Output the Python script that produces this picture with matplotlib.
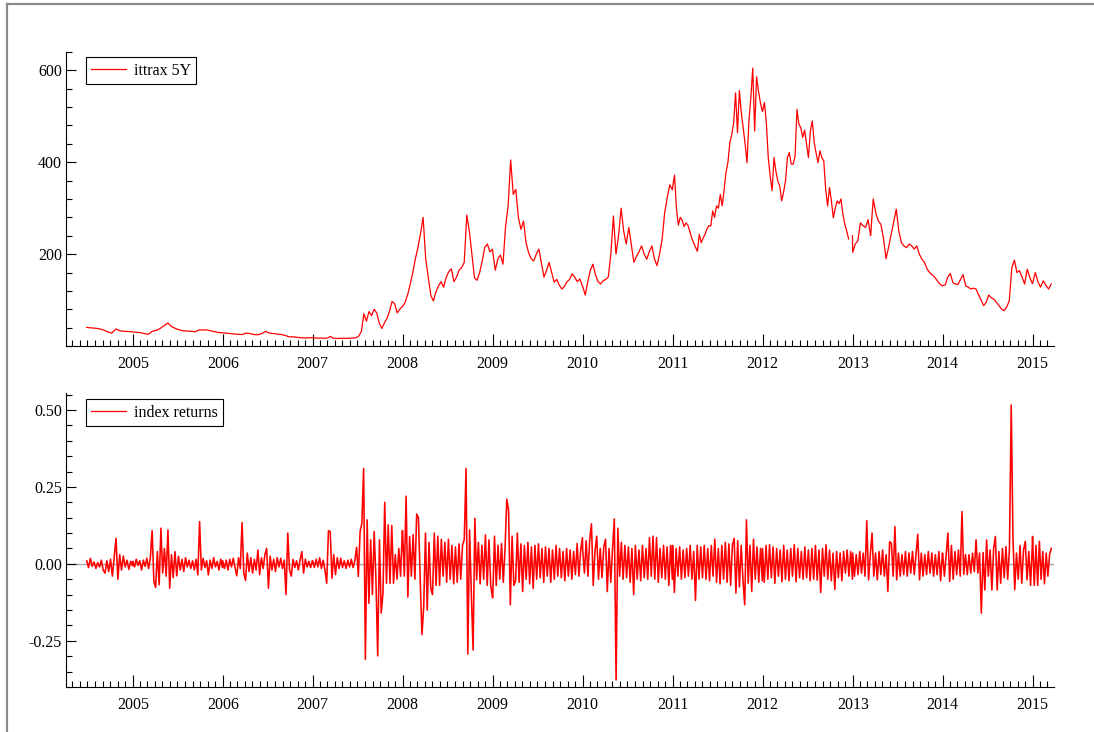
import numpy as np
import pandas as pd
import matplotlib
matplotlib.use('Agg')
import matplotlib.pyplot as plt
import matplotlib.dates as mdates
from matplotlib.lines import Line2D

plt.rcParams['font.family'] = ['Liberation Serif', 'DejaVu Serif']

nan = np.nan

# itraxx 5Y spread level, one list per calendar year
lvl_2004 = [40.5, 39.5, 38.8, 37.5, 35.0, 31.0, 28.0, 37.0, 33.0, 32.0, 31.5, 31.0]
lvl_2005 = [30.5, 30.0, 29.0, 27.0, 25.5, 32.0, 34.0, 38.0, 44.0, 50.0, 42.0, 38.0,
            35.0, 33.0, 32.5, 32.0, 31.0, 35.0, 35.0, 35.0, 33.0, 31.0, 29.5, 28.5]
lvl_2006 = [28.5, 28.0, 27.0, 26.0, 25.5, 25.0, 28.0, 27.0, 25.0, 24.5, 27.0, 32.0,
            28.0, 27.0, 26.0, 25.0, 23.0, 20.0, 20.0, 19.0, 18.0, 17.5, 18.0, 18.0]
lvl_2007 = [18, 17.5, 17, 17.5, 17, 16.5, 18, 21, 17, 16.5, 16.5, 16.7,
            17, 16.5, 17, 17, 17.5, 18, 22, 31, 70, 54, 75, 66,
            80, 72, 50, 38, 50, 60, 76, 97, 92, 72, 80, 86]
lvl_2008 = [86, 95, 112, 135, 160, 190, 215, 245, 280, 190, 150, 110,
            98, 118, 131, 140, 128, 150, 162, 168, 140, 150, 165, 171,
            182, 285, 250, 200, 148, 143, 160, 185, 215, 222, 205, 211]
lvl_2009 = [205, 165, 190, 198, 178, 260, 305, 405, 330, 341, 280, 254,
            272, 225, 203, 190, 185, 200, 211, 180, 150, 165, 182, 160,
            139, 145, 132, 124, 130, 140, 145, 157, 150, 140, 146, 130]
lvl_2010 = [130, 111, 140, 165, 178, 155, 140, 135, 142, 145, 150, 200,
            283, 200, 240, 300, 250, 222, 258, 220, 182, 195, 205, 218,
            200, 189, 205, 218, 190, 175, 200, 232, 290, 323, 351, 340]
lvl_2011 = [345, 372, 300, 263, 280, 274, 260, 268, 263, 250, 235, 225,
            215, 206, 243, 225, 235, 243, 255, 262, 261, 294, 280, 305,
            300, 330, 305, 340, 378, 400, 443, 460, 486, 551, 464, 556,
            508, 475, 440, 399, 490, 540, 605, 468, 586, 555, 530, 511]
lvl_2012 = [511, 530, 486, 410, 370, 338, 410, 380, 359, 348, 316, 335,
            359, 410, 421, 396, 396, 413, 515, 483, 475, 454, 470, 440,
            410, 468, 490, 443, 420, 399, 425, 410, 403, 341, 305, 345,
            316, 279, 300, 316, 310, 320, 287, 265, 250, 233, nan, 240]
lvl_2013 = [204, 222, 229, 268, 262, 258, 275, 240, 320, 290, 272, 265,
            235, 190, 215, 243, 270, 298, 250, 225, 218, 214, 222, 218,
            211, 218, 200, 189, 182, 168, 160, 155, 150, 142, 135, 131]
lvl_2014 = [131, 133, 150, 158, 138, 135, 134, 145, 155, 131, 128, 124,
            126, 124, 112, 100, 88, 95, 111, 105, 102, 95, 88, 80,
            77, 85, 98, 170, 187, 160, 164, 150, 135, 167, 150, 136]
lvl_2015 = [136, 160, 140, 128, 142, 132, 124, 135]

# index returns, one list per calendar year
ret_2004 = [0.010, -0.012, 0.018, -0.008, 0.006, -0.015, 0.004, -0.010, 0.012, -0.020,
            -0.030, 0.010, -0.025, 0.015, -0.040, 0.020, 0.083, -0.050, 0.030, -0.020,
            0.025, -0.010, 0.012, -0.018, 0.008, -0.006]
ret_2005 = [0.008, -0.010, 0.015, -0.005, 0.010, -0.020, 0.012, -0.008, 0.018, -0.015,
            0.020, 0.108, -0.057, -0.077, 0.040, -0.068, 0.116, -0.030, 0.050, -0.040,
            0.110, -0.079, 0.030, -0.045, 0.040, -0.039, 0.025, -0.020, 0.015, -0.025,
            0.020, -0.010, 0.012, -0.015, 0.010, -0.020, 0.015, -0.036, 0.137, -0.020,
            0.018, -0.012, 0.010, -0.036, 0.012, -0.015, 0.020, -0.010, 0.008, -0.020,
            0.015, -0.012]
ret_2006 = [0.010, -0.015, 0.012, -0.020, 0.015, -0.010, 0.018, -0.012, -0.039, 0.020,
            -0.015, 0.134, -0.030, -0.054, 0.035, -0.025, 0.020, -0.030, 0.015, -0.020,
            0.045, -0.035, 0.020, -0.015, 0.030, 0.050, -0.079, 0.025, -0.020, 0.015,
            -0.025, 0.020, -0.010, 0.018, -0.015, 0.012, -0.100, 0.100, -0.020, -0.040,
            0.015, -0.012, 0.010, -0.020, 0.012, 0.040, -0.030, 0.015, -0.010, 0.008,
            -0.012, 0.010]
ret_2007 = [0.010, -0.012, 0.015, -0.010, 0.020, -0.015, 0.012, -0.020, -0.063, 0.108,
            0.105, -0.047, 0.030, -0.035, 0.020, -0.015, 0.018, -0.012, 0.010, -0.015,
            0.012, -0.010, 0.015, -0.012, 0.010, 0.054, -0.041, 0.105, 0.132, 0.310,
            -0.310, 0.143, -0.128, 0.078, -0.100, 0.105, -0.050, -0.299, 0.078, -0.160,
            -0.095, 0.200, -0.063, 0.127, -0.063, 0.125, -0.063, 0.030, -0.050, 0.050,
            -0.040, 0.108]
ret_2008 = [0.108, -0.040, 0.220, -0.108, 0.089, -0.040, 0.095, -0.050, 0.162, 0.150,
            -0.050, -0.230, -0.139, 0.100, -0.150, 0.070, -0.080, -0.100, 0.100, -0.070,
            0.090, -0.070, 0.080, -0.040, 0.070, -0.060, 0.080, -0.050, 0.060, -0.065,
            0.055, -0.060, 0.065, -0.050, 0.060, 0.080, 0.310, -0.293, 0.110, -0.095,
            -0.280, 0.148, -0.052, 0.070, -0.065, 0.060, -0.050, 0.094, -0.070, 0.078,
            -0.070, -0.110]
ret_2009 = [-0.110, 0.090, -0.070, 0.060, -0.050, 0.066, -0.060, 0.050, 0.210, 0.175,
            -0.133, 0.090, -0.070, -0.055, 0.100, -0.060, 0.065, -0.090, 0.060, -0.050,
            0.070, -0.065, 0.055, -0.080, 0.060, -0.050, 0.065, -0.045, 0.050, -0.060,
            0.055, -0.040, 0.050, -0.060, 0.045, -0.050, 0.060, -0.040, 0.050, -0.045,
            0.040, -0.055, 0.050, -0.040, 0.045, -0.050, 0.040, -0.035, 0.066, -0.040,
            0.045, 0.085]
ret_2010 = [0.045, -0.030, 0.075, -0.040, 0.078, 0.130, -0.070, 0.040, 0.090, -0.050,
            0.050, -0.045, 0.055, 0.080, -0.090, 0.050, -0.060, 0.050, 0.146, -0.377,
            0.116, -0.040, 0.070, -0.050, 0.060, -0.045, 0.055, -0.060, 0.050, -0.100,
            0.060, -0.050, 0.045, -0.055, 0.060, -0.045, 0.050, -0.050, 0.085, -0.040,
            0.090, -0.050, 0.085, -0.060, 0.050, -0.045, 0.060, -0.050, 0.055, -0.070,
            0.060, -0.050]
ret_2011 = [0.060, -0.093, 0.050, -0.040, 0.055, -0.050, 0.045, -0.045, 0.050, -0.040,
            0.060, -0.050, 0.040, -0.119, 0.060, -0.050, 0.055, -0.045, 0.060, -0.050,
            0.050, -0.055, 0.060, -0.040, 0.080, -0.060, 0.050, -0.065, 0.060, -0.050,
            0.070, -0.060, 0.065, -0.070, 0.060, 0.083, -0.095, 0.075, -0.075, 0.060,
            -0.050, -0.133, 0.143, -0.063, 0.060, -0.090, 0.080, -0.050, 0.055, -0.060,
            0.050, -0.055]
ret_2012 = [0.050, -0.060, 0.060, -0.050, 0.062, -0.045, 0.055, -0.063, 0.050, -0.040,
            0.045, -0.058, 0.060, -0.050, 0.045, -0.055, 0.050, -0.040, 0.062, -0.058,
            0.050, -0.045, 0.040, -0.050, 0.055, -0.045, 0.045, -0.055, 0.050, -0.050,
            0.060, -0.053, 0.045, -0.093, 0.050, -0.040, 0.062, -0.050, 0.045, -0.055,
            0.035, -0.083, 0.040, -0.045, 0.035, -0.055, 0.040, -0.030, 0.045, -0.040,
            0.040, -0.050]
ret_2013 = [0.035, -0.040, 0.030, -0.035, 0.040, -0.030, 0.035, -0.040, 0.140, -0.052,
            0.030, 0.100, -0.040, 0.035, -0.052, 0.040, -0.035, 0.045, -0.040, 0.030,
            -0.090, 0.072, 0.067, -0.040, 0.121, -0.052, 0.035, -0.040, 0.030, -0.035,
            0.040, -0.040, 0.035, -0.030, 0.040, -0.035, 0.030, 0.096, -0.052, 0.035,
            -0.040, 0.030, -0.035, 0.040, -0.030, 0.035, -0.040, 0.030, -0.035, 0.040,
            -0.055, 0.035]
ret_2014 = [0.035, -0.040, 0.030, 0.100, -0.057, 0.060, -0.050, 0.040, -0.035, 0.045,
            -0.040, 0.170, -0.034, 0.030, -0.035, 0.030, -0.030, 0.035, -0.025, 0.078,
            -0.030, 0.035, -0.160, 0.037, -0.085, 0.078, -0.040, 0.045, -0.085, 0.050,
            0.089, -0.085, 0.040, -0.063, 0.050, -0.045, 0.056, -0.050, 0.050, 0.516,
            0.083, -0.084, 0.035, -0.050, 0.060, -0.063, 0.045, 0.073, -0.052, 0.040,
            -0.070, 0.060]
ret_2015 = [0.089, -0.070, 0.060, -0.070, 0.073, -0.050, 0.040, -0.065, 0.035, -0.040,
            0.030, 0.050]

years = list(range(2004, 2016))
level_by_year = [lvl_2004, lvl_2005, lvl_2006, lvl_2007, lvl_2008, lvl_2009,
                 lvl_2010, lvl_2011, lvl_2012, lvl_2013, lvl_2014, lvl_2015]
returns_by_year = [ret_2004, ret_2005, ret_2006, ret_2007, ret_2008, ret_2009,
                   ret_2010, ret_2011, ret_2012, ret_2013, ret_2014, ret_2015]


def year_span(year):
    if year == 2004:
        return '2004-06-28', '2004-12-31'
    if year == 2015:
        return '2015-01-01', '2015-03-18'
    return f'{year}-01-01', f'{year}-12-31'


def build_series(chunks):
    parts = []
    for year, vals in zip(years, chunks):
        start, end = year_span(year)
        idx = pd.date_range(start, end, periods=len(vals))
        parts.append(pd.Series(vals, index=idx, dtype=float))
    return pd.concat(parts)


def style_axis(ax):
    for side in ('top', 'right'):
        ax.spines[side].set_visible(False)
    for side in ('left', 'bottom'):
        ax.spines[side].set_linewidth(0.8)
    ax.set_xlim(pd.Timestamp('2004-04-05'), pd.Timestamp('2015-03-29'))
    ax.xaxis.set_major_locator(mdates.YearLocator())
    ax.xaxis.set_minor_locator(mdates.MonthLocator())
    ax.xaxis.set_major_formatter(mdates.DateFormatter('%Y'))
    ax.tick_params(which='major', direction='in', length=8, width=0.8,
                   labelsize=11.5, colors='black')
    ax.tick_params(which='minor', direction='in', length=4, width=0.8)
    ax.tick_params(axis='x', which='major', length=9, pad=7)
    ax.tick_params(axis='y', which='major', length=7, pad=3)


def add_legend(ax, left_px, top_px):
    w, h = 988.0, 294.0
    leg = ax.legend(loc='upper left', bbox_to_anchor=(left_px / w, 1 - top_px / h),
                    borderaxespad=0, frameon=True, fancybox=False,
                    edgecolor='black', framealpha=1, fontsize=11.5,
                    handlelength=2.2, handletextpad=0.45, borderpad=0.35)
    leg.get_frame().set_linewidth(0.8)
    for line in leg.get_lines():
        line.set_linewidth(0.9)


level = build_series(level_by_year)
returns = build_series(returns_by_year)

W, H = 1094, 732
fig = plt.figure(figsize=(W / 100, H / 100), dpi=100)
ax1 = fig.add_axes([66 / W, 1 - 346 / H, (1054 - 66) / W, (346 - 52) / H])
ax2 = fig.add_axes([66 / W, 1 - 687 / H, (1054 - 66) / W, (687 - 393) / H])

ax1.plot(level.index, level.values, color='#ff0000', lw=0.9, label='ittrax 5Y')
ax1.set_ylim(0, 640)
ax1.set_yticks([200, 400, 600])
ax1.yaxis.set_minor_locator(plt.MultipleLocator(40))
style_axis(ax1)
add_legend(ax1, 19.7, 5.3)

ax2.axhline(0, color='#a8a8a8', lw=1.0, zorder=1)
ax2.plot(returns.index, returns.values, color='#ff0000', lw=1.15,
         label='index returns', zorder=2)
ax2.set_ylim(-0.40, 0.555)
ax2.set_yticks([-0.25, 0.0, 0.25, 0.5])
ax2.set_yticklabels(['-0.25', '0.00', '0.25', '0.50'])
ax2.yaxis.set_minor_locator(plt.MultipleLocator(0.05))
style_axis(ax2)
add_legend(ax2, 19.7, 6.3)

# window frame on the left and top edges
fig.add_artist(Line2D([7 / W, 7 / W], [0, 1 - 3.5 / H], color='#8a8a8a', lw=1.6,
                      transform=fig.transFigure))
fig.add_artist(Line2D([7 / W, 1], [1 - 3.5 / H, 1 - 3.5 / H], color='#8a8a8a', lw=1.6,
                      transform=fig.transFigure))

fig.savefig('out.png', dpi=100)
